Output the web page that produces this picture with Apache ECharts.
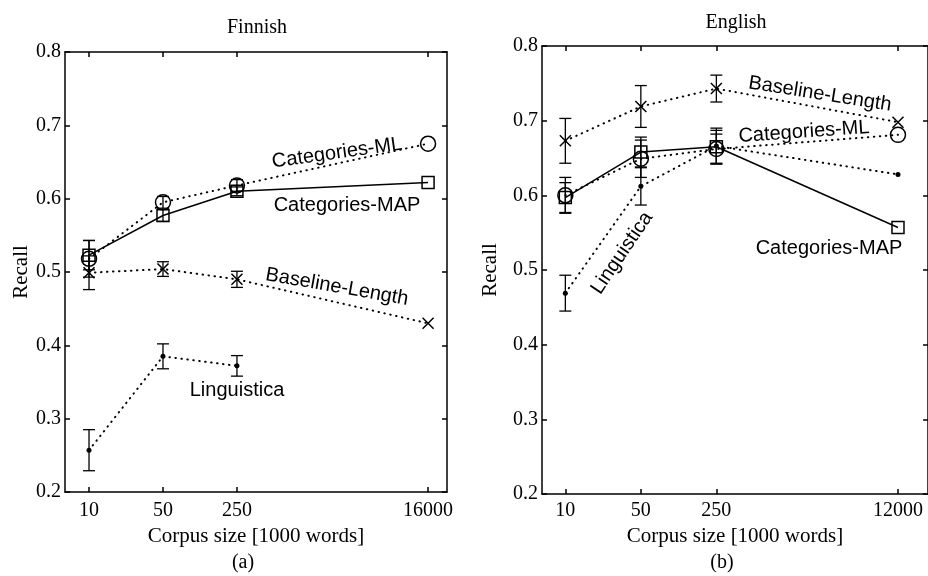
<!DOCTYPE html>
<html><head><meta charset="utf-8">
<script src="https://cdn.jsdelivr.net/npm/echarts@6/dist/echarts.min.js"></script>
<style>html,body{margin:0;padding:0;background:#fff}#c{width:928px;height:576px}</style>
</head><body><div id="c"></div>
<script>
// ---------- data ----------
const sizesFi = [10, 50, 250, 16000];
const sizesEn = [10, 50, 250, 12000];
const tickLabelsFi = ['10', '50', '250', '16000'];
const tickLabelsEn = ['10', '50', '250', '12000'];

// Finnish
const fiML      = [0.518, 0.595, 0.618, 0.675];
const fiMLErr   = [0.025, 0.008, 0.008, null];
const fiMAP     = [0.523, 0.577, 0.610, 0.622];
const fiMAPErr  = [0.020, 0.008, 0.006, null];
const fiBase    = [0.499, 0.504, 0.490, 0.430];
const fiBaseErr = [0.023, 0.010, 0.011, null];
const fiLing    = [0.257, 0.385, 0.372, null];
const fiLingErr = [0.028, 0.017, 0.014, null];

// English
const enML      = [0.600, 0.649, 0.662, 0.681];
const enMLErr   = [0.024, 0.025, 0.020, null];
const enMAP     = [0.597, 0.658, 0.665, 0.557];
const enMAPErr  = [0.020, 0.020, 0.022, null];
const enBase    = [0.673, 0.719, 0.743, 0.698];
const enBaseErr = [0.030, 0.028, 0.018, null];
const enLing    = [0.469, 0.612, 0.666, 0.628];
const enLingErr = [0.024, 0.025, 0.024, null];

// ---------- helpers ----------
const lg = v => Math.log10(v);
function pts(sizes, vals) {
  const out = [];
  vals.forEach((v, i) => { if (v != null) out.push([lg(sizes[i]), v]); });
  return out;
}
function errPts(sizes, vals, errs) {
  const out = [];
  vals.forEach((v, i) => { if (v != null && errs[i] != null) out.push([lg(sizes[i]), v, errs[i]]); });
  return out;
}
function errRender(params, api) {
  const x = api.value(0), y = api.value(1), e = api.value(2);
  const hi = api.coord([x, y + e]);
  const lo = api.coord([x, y - e]);
  const w = 6;
  const style = { stroke: '#000', lineWidth: 1.3, fill: null };
  return { type: 'group', children: [
    { type: 'line', shape: { x1: hi[0], y1: hi[1], x2: lo[0], y2: lo[1] }, style },
    { type: 'line', shape: { x1: hi[0] - w, y1: hi[1], x2: hi[0] + w, y2: hi[1] }, style },
    { type: 'line', shape: { x1: lo[0] - w, y1: lo[1], x2: lo[0] + w, y2: lo[1] }, style }
  ]};
}
const SERIF = 'Liberation Serif';
const SANS = 'Liberation Sans';
const axLine = { show: true, lineStyle: { color: '#000', width: 1.5 } };
const tickStyle = { color: '#000', width: 1.5 };

function xAxes(grid, sizes, labels, min, max, nameGap, labelMargin) {
  const xs = sizes.map(lg);
  const fmt = v => { const i = xs.findIndex(t => Math.abs(t - v) < 1e-6); return i >= 0 ? labels[i] : ''; };
  return [
    { type: 'value', gridIndex: grid, position: 'bottom', min, max,
      name: 'Corpus size [1000 words]', nameLocation: 'middle', nameGap,
      nameTextStyle: { fontFamily: SERIF, fontSize: 21, color: '#000' },
      axisLine: axLine,
      axisTick: { show: true, inside: true, length: 5, lineStyle: tickStyle, customValues: xs },
      axisLabel: { show: true, customValues: xs, formatter: fmt, margin: labelMargin,
        fontFamily: SERIF, fontSize: 20, color: '#000' },
      splitLine: { show: false } },
    { type: 'value', gridIndex: grid, position: 'top', min, max,
      axisLine: axLine,
      axisTick: { show: true, inside: true, length: 5, lineStyle: tickStyle, customValues: xs },
      axisLabel: { show: false },
      splitLine: { show: false } }
  ];
}
function yAxes(grid, nameGap) {
  return [
    { type: 'value', gridIndex: grid, position: 'left', min: 0.2, max: 0.8, interval: 0.1,
      name: 'Recall', nameLocation: 'middle', nameGap, nameRotate: 90,
      nameTextStyle: { fontFamily: SERIF, fontSize: 21, color: '#000' },
      axisLine: axLine,
      axisTick: { show: true, inside: true, length: 5, lineStyle: tickStyle },
      axisLabel: { show: true, margin: 4, formatter: v => v.toFixed(1),
        fontFamily: SERIF, fontSize: 20, color: '#000' },
      splitLine: { show: false } },
    { type: 'value', gridIndex: grid, position: 'right', min: 0.2, max: 0.8, interval: 0.1,
      axisLine: axLine,
      axisTick: { show: true, inside: true, length: 5, lineStyle: tickStyle },
      axisLabel: { show: false },
      splitLine: { show: false } }
  ];
}

const dotted = { color: '#000', width: 2, type: [0.5, 5.5], cap: 'round' };
const solid = { color: '#000', width: 1.5, type: 'solid' };
const hollow = { color: 'transparent', borderColor: '#000', borderWidth: 1.5 };
const XSYM = 'path://M0 0L10 10M10 0L0 10';

function panelSeries(xi, yi, sizes, d) {
  const base = { xAxisIndex: xi, yAxisIndex: yi, animation: false };
  return [
    Object.assign({ type: 'line', data: pts(sizes, d.ling), symbol: 'circle', symbolSize: 5,
      lineStyle: dotted, itemStyle: { color: '#000' }, z: 2 }, base),
    Object.assign({ type: 'line', data: pts(sizes, d.base), symbol: XSYM, symbolSize: 11,
      lineStyle: dotted, itemStyle: { color: 'transparent', borderColor: '#000', borderWidth: 1.5 }, z: 2 }, base),
    Object.assign({ type: 'line', data: pts(sizes, d.ml), symbol: 'circle', symbolSize: 15,
      lineStyle: dotted, itemStyle: hollow, z: 3 }, base),
    Object.assign({ type: 'line', data: pts(sizes, d.map), symbol: 'rect', symbolSize: 12,
      lineStyle: solid, itemStyle: hollow, z: 3 }, base),
    Object.assign({ type: 'custom', renderItem: errRender, data: errPts(sizes, d.ling, d.lingErr), z: 5 }, base),
    Object.assign({ type: 'custom', renderItem: errRender, data: errPts(sizes, d.base, d.baseErr), z: 5 }, base),
    Object.assign({ type: 'custom', renderItem: errRender, data: errPts(sizes, d.ml, d.mlErr), z: 5 }, base),
    Object.assign({ type: 'custom', renderItem: errRender, data: errPts(sizes, d.map, d.mapErr), z: 5 }, base)
  ];
}

function txt(text, x, y, opts) {
  opts = opts || {};
  const deg = opts.rot || 0;
  return { type: 'text', x, y, rotation: deg * Math.PI / 180, z: 10,
    style: { text, fill: '#000', fontFamily: opts.family || SANS, fontSize: opts.size || 20,
      align: 'center', verticalAlign: 'middle', textAlign: 'center', textVerticalAlign: 'middle' } };
}

const chart = echarts.init(document.getElementById('c'), null, { renderer: 'canvas' });
chart.setOption({
  animation: false,
  backgroundColor: '#fff',
  grid: [
    { left: 65, top: 52, width: 382, height: 440, containLabel: false },
    { left: 542, top: 46, width: 388, height: 448, containLabel: false }
  ],
  xAxis: [].concat(
    xAxes(0, sizesFi, tickLabelsFi, 0.773, 4.383, 26, 9),
    xAxes(1, sizesEn, tickLabelsEn, 0.784, 4.357, 30, 7)
  ),
  yAxis: [].concat(yAxes(0, 31), yAxes(1, 41)),
  series: [].concat(
    panelSeries(0, 0, sizesFi, { ml: fiML, mlErr: fiMLErr, map: fiMAP, mapErr: fiMAPErr,
      base: fiBase, baseErr: fiBaseErr, ling: fiLing, lingErr: fiLingErr }),
    panelSeries(2, 2, sizesEn, { ml: enML, mlErr: enMLErr, map: enMAP, mapErr: enMAPErr,
      base: enBase, baseErr: enBaseErr, ling: enLing, lingErr: enLingErr })
  ),
  graphic: [
    txt('Finnish', 257, 28, { family: SERIF }),
    txt('English', 736, 23, { family: SERIF }),
    txt('(a)', 243, 563, { family: SERIF }),
    txt('(b)', 722, 563, { family: SERIF }),
    txt('Categories-ML', 337, 153, { rot: 8 }),
    txt('Categories-MAP', 347, 205),
    txt('Baseline-Length', 337, 287, { rot: -10 }),
    txt('Linguistica', 237, 390),
    txt('Baseline-Length', 820, 94, { rot: -9 }),
    txt('Categories-ML', 804, 132, { rot: 4 }),
    txt('Categories-MAP', 829, 248),
    txt('Linguistica', 622, 253, { rot: 56 })
  ]
});
</script>
</body></html>
